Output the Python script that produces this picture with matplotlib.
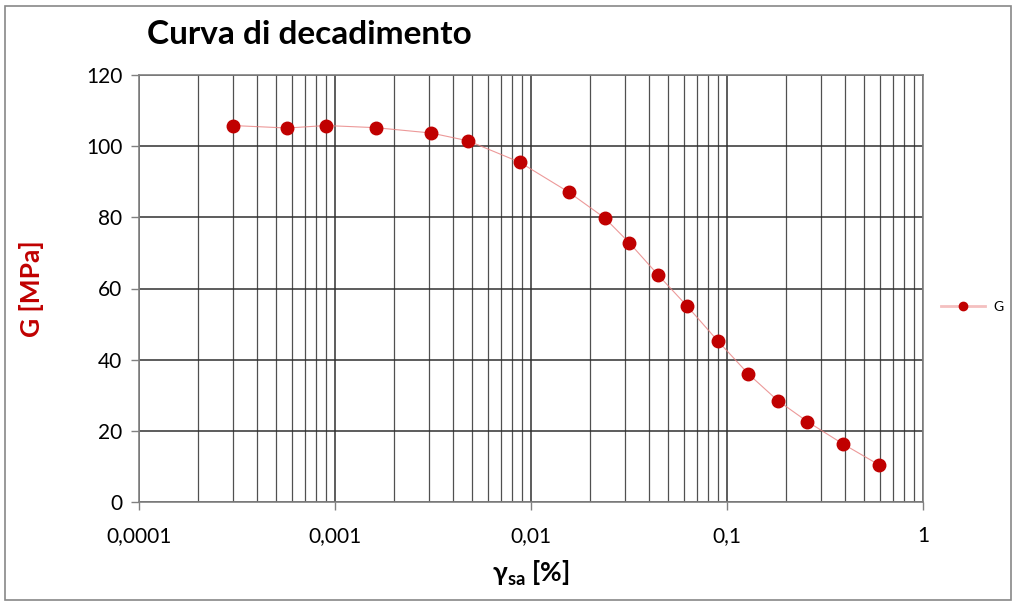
import matplotlib
matplotlib.use("Agg")
import matplotlib.pyplot as plt
from matplotlib.ticker import FixedLocator, LogLocator, NullFormatter
from matplotlib.patches import Rectangle
from matplotlib.lines import Line2D

# Data
gamma = [0.000301, 0.000571, 0.00090, 0.00161, 0.00309, 0.00478, 0.00875,
         0.01556, 0.0238, 0.0318, 0.0447, 0.0625, 0.090, 0.1285, 0.1815,
         0.257, 0.391, 0.594]
G = [105.8, 105.1, 105.8, 105.2, 103.7, 101.5, 95.5, 87.1, 79.8, 72.8,
     63.7, 55.1, 45.2, 36.0, 28.5, 22.6, 16.3, 10.5]
x_ticks = [0.0001, 0.001, 0.01, 0.1, 1]
x_tick_labels = ["0,0001", "0,001", "0,01", "0,1", "1"]
y_ticks = [0, 20, 40, 60, 80, 100, 120]

plt.rcParams['font.family'] = ['Lato', 'DejaVu Sans']
plt.rcParams['mathtext.fontset'] = 'custom'
plt.rcParams['mathtext.rm'] = 'Lato'
plt.rcParams['mathtext.bf'] = 'Lato:bold'

red = '#C00000'
fig = plt.figure(figsize=(10.16, 6.03), dpi=100)
ax = fig.add_axes([139/1016, 1-502/603, (923-139)/1016, (502-75)/603])

ax.plot(gamma, G, '-', color='#E88080', lw=0.8, alpha=0.8, zorder=3)
ax.plot(gamma, G, 'o', color=red, ms=9, zorder=4)

ax.set_xscale('log')
ax.set_xlim(1e-4, 1)
ax.set_ylim(0, 120)
ax.xaxis.set_major_locator(FixedLocator(x_ticks))
ax.set_xticklabels(x_tick_labels)
ax.xaxis.set_minor_locator(LogLocator(base=10, subs=range(2, 10)))
ax.xaxis.set_minor_formatter(NullFormatter())
ax.set_yticks(y_ticks)

ax.grid(True, which='major', axis='both', color='#303030', lw=1.1, zorder=1)
ax.grid(True, which='minor', axis='x', color='#505050', lw=0.9, zorder=1)
ax.tick_params(axis='both', which='major', labelsize=15, length=6,
               color='#808080', width=1)
ax.tick_params(axis='x', which='minor', length=0)
ax.tick_params(axis='x', pad=11)
ax.tick_params(axis='y', pad=6)
for s in ax.spines.values():
    s.set_color('#808080')
    s.set_linewidth(1.2)

ax.set_xlabel(r"γ$_{\mathregular{sa}}$ [%]", fontsize=19, fontweight='bold', labelpad=9)
ax.set_ylabel("G [MPa]", fontsize=19, fontweight='bold', color=red, labelpad=30)

fig.text(147/1016, 1-35/603, "Curva di decadimento", fontsize=24,
         fontweight='bold', ha='left', va='center')

proxy = Line2D([], [], color='#F4C0C0', lw=2, marker='o', ms=6,
               mfc=red, mec=red)
fig.legend([proxy], ['G'], loc='center left', bbox_to_anchor=(928/1016, 1-307/603),
           frameon=False, fontsize=10, handlelength=3.2, handletextpad=0.6)

fig.patches.append(Rectangle((5/1016, 3/603), 1-10/1016, 1-9/603,
                             transform=fig.transFigure, fill=False,
                             edgecolor='#888888', lw=1.2))

fig.savefig('out.png', dpi=100)
